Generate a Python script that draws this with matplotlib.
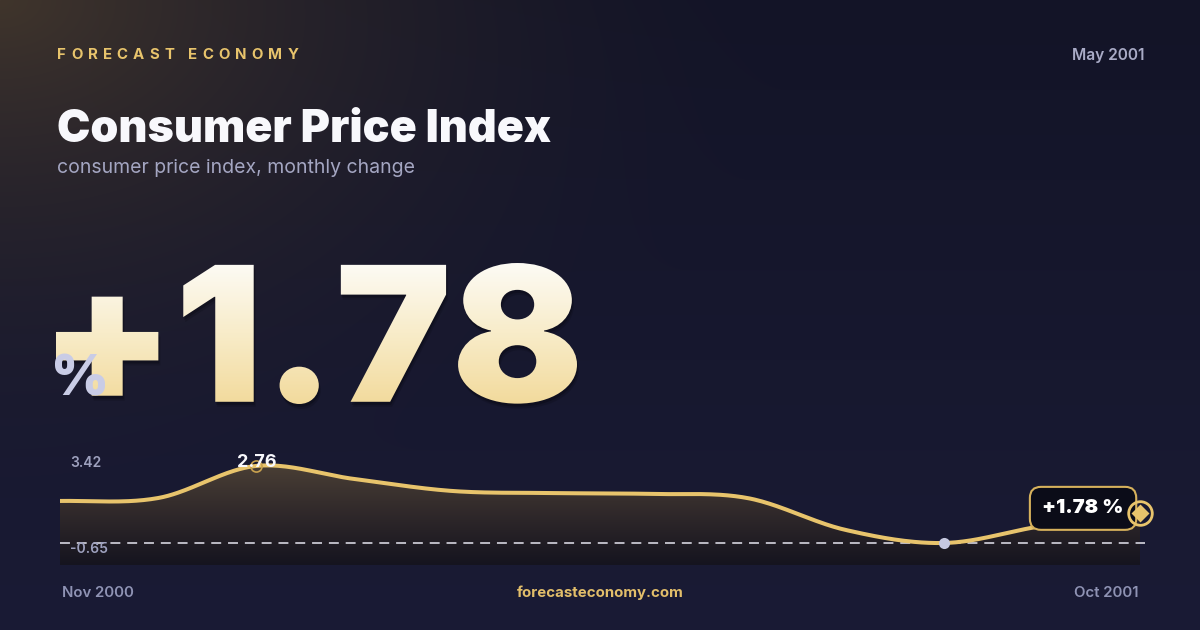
import numpy as np
import matplotlib
matplotlib.use("Agg")
import matplotlib.pyplot as plt
from matplotlib.textpath import TextPath
from matplotlib.patches import PathPatch
from matplotlib.font_manager import FontProperties
from matplotlib.transforms import Affine2D
from matplotlib.colors import LinearSegmentedColormap

# ---------------- data ----------------
months = ["Nov 2000", "Dec 2000", "Jan 2001", "Feb 2001", "Mar 2001", "Apr 2001",
          "May 2001", "Jun 2001", "Jul 2001", "Aug 2001", "Sep 2001", "Oct 2001"]
values = [1.21, 1.34, 2.76, 2.18, 1.65, 1.56, 1.52, 1.34, -0.07, -0.65, 0.10, 0.68]
axis_top = 3.42
axis_bottom = -0.65
headline_value = "+1.78"
badge_text = "+1.78 %"
peak_label = "2.76"
brand = "FORECAST ECONOMY"
title = "Consumer Price Index"
subtitle = "consumer price index, monthly change"
date_label = "May 2001"
site = "forecasteconomy.com"

W, H = 1200, 630
fig = plt.figure(figsize=(W / 100, H / 100), dpi=100)
FAM = ["Inter", "Lato", "Roboto", "DejaVu Sans"]
plt.rcParams["font.family"] = FAM

GOLD = "#e8c46c"

# ---------------- background ----------------
bg = fig.add_axes([0, 0, 1, 1])
bg.set_xlim(0, W)
bg.set_ylim(H, 0)
bg.axis("off")
yy, xx = np.mgrid[0:H, 0:W]
top = np.array([0x13, 0x14, 0x27]) / 255
bot = np.array([0x1a, 0x1b, 0x35]) / 255
t = (yy / H)[..., None]
img = top * (1 - t) + bot * t
r = np.sqrt((xx * 0.9) ** 2 + (yy * 1.35) ** 2)
glow = np.clip(1 - r / 720, 0, 1) ** 1.8
warm = np.array([0x40, 0x35, 0x2c]) / 255
img = img * (1 - glow[..., None]) + warm * glow[..., None]
bg.imshow(img, extent=(0, W, H, 0), aspect="auto", zorder=0, interpolation="bilinear")

renderer = fig.canvas.get_renderer()

# ---------------- header ----------------
prop_brand = FontProperties(family=FAM, weight="bold", size=10.8)
x = 57
for ch in brand:
    if ch == " ":
        x += 9
        continue
    bg.text(x, 59, ch, fontproperties=prop_brand, color=GOLD, ha="left", va="baseline", zorder=3)
    w, h, d = renderer.get_text_width_height_descent(ch, prop_brand, ismath=False)
    x += w + 5.1

bg.text(57, 142, title, fontsize=32.2, fontweight="black", color="#f8f8fc",
        ha="left", va="baseline", zorder=3)
bg.text(57, 173, subtitle, fontsize=14.0, color="#a4a6c2",
        ha="left", va="baseline", zorder=3)
bg.text(1144, 60, date_label, fontsize=11.2, fontweight="semibold", color="#a9abc6",
        ha="right", va="baseline", zorder=3)

# ---------------- headline with gradient ----------------
hp = FontProperties(family=FAM, weight="black")
tp = TextPath((0, 0), headline_value, size=100, prop=hp)
ext = tp.get_extents()
x0, x1, y0, y1 = 56, 577, 263, 404
sx = (x1 - x0) / ext.width
sy = (y1 - y0) / ext.height
tr = Affine2D().translate(-ext.x0, -ext.y0).scale(sx, -sy).translate(x0, y1)
path = tr.transform_path(tp)
for off, a in [((1, 3), 0.30), ((2, 5), 0.18)]:
    sh = PathPatch(Affine2D().translate(*off).transform_path(path), facecolor="#06060d",
                   edgecolor="none", alpha=a, transform=bg.transData, zorder=3)
    bg.add_patch(sh)
patch = PathPatch(path, facecolor="none", edgecolor="none", transform=bg.transData, zorder=4)
bg.add_patch(patch)
gcmap = LinearSegmentedColormap.from_list("g", ["#fdfcf8", "#f8ecc9", "#f2d999"])
grad = np.linspace(0, 1, 256)[:, None]
im = bg.imshow(grad, cmap=gcmap, extent=(x0 - 5, x1 + 5, y1 + 5, y0 - 5), aspect="auto",
               zorder=4, interpolation="bilinear")
im.set_clip_path(patch)

bg.text(51, 395, "%", fontsize=40, fontweight="black", color="#c9cce6",
        ha="left", va="baseline", zorder=5)

# ---------------- chart ----------------
L, R = 60, 1140
ytop_px, yzero_px, ybot_px = 451, 543, 565
ax = fig.add_axes([L / W, 1 - ybot_px / H, (R - L) / W, (ybot_px - ytop_px) / H])
ax.axis("off")
ax.patch.set_alpha(0)
span = axis_top - axis_bottom
ylow = axis_bottom - span * (ybot_px - yzero_px) / (yzero_px - ytop_px)
n = len(values)
xs = np.arange(n, dtype=float)


def catmull_rom(x, y, per=40):
    x = np.asarray(x, float)
    y = np.asarray(y, float)
    m = np.zeros_like(y)
    m[1:-1] = (y[2:] - y[:-2]) / 2
    m[0] = (y[1] - y[0]) / 2
    m[-1] = (y[-1] - y[-2]) / 2
    X, Y = [], []
    for i in range(len(x) - 1):
        tt = np.linspace(0, 1, per, endpoint=False)
        h00 = 2 * tt**3 - 3 * tt**2 + 1
        h10 = tt**3 - 2 * tt**2 + tt
        h01 = -2 * tt**3 + 3 * tt**2
        h11 = tt**3 - tt**2
        X.append(x[i] + tt * (x[i + 1] - x[i]))
        Y.append(h00 * y[i] + h10 * m[i] + h01 * y[i + 1] + h11 * m[i + 1])
    X.append([x[-1]])
    Y.append([y[-1]])
    return np.concatenate(X), np.concatenate(Y)


cx, cy = catmull_rom(xs, values)

fill = ax.fill_between(cx, cy, ylow, facecolor="none", edgecolor="none")
fcmap = LinearSegmentedColormap.from_list("f", ["#4a3f35", "#2f282a", "#15141f"])
fim = ax.imshow(np.linspace(0, 1, 256)[:, None], cmap=fcmap,
                extent=(0, n - 1, ylow, max(cy) + 0.05), aspect="auto",
                interpolation="bilinear", zorder=1)
fim.set_clip_path(fill.get_paths()[0], transform=ax.transData)
ax.set_xlim(0, n - 1)
ax.set_ylim(ylow, axis_top)

ax.axhline(axis_bottom, xmin=0, xmax=1.005, color="#e6e6f0", lw=1.1,
           dashes=(6.5, 4.5), zorder=2, clip_on=False)
ax.plot(cx, cy, color=GOLD, lw=2.9, solid_capstyle="round", zorder=3)

imax = int(np.argmax(values))
imin = int(np.argmin(values))
ax.plot(xs[imax], values[imax], "o", ms=8.0, mfc="none", mec="#c9a24f", mew=1.2, zorder=4)
ax.annotate(peak_label, (xs[imax], values[imax]), xytext=(0, -1), textcoords="offset points",
            ha="center", va="baseline", fontsize=13, fontweight="bold",
            color="#f8f8fc", zorder=5)
ax.plot(xs[imin], values[imin], "o", ms=8, mfc="#c5c8e0", mec="none", zorder=4)

ax.annotate("3.42", (0, axis_top), xytext=(7.2, -3.6), textcoords="offset points",
            fontsize=10, fontweight="semibold", color="#9ea1be", ha="left", va="top", zorder=5)
ax.annotate("-0.65", (0, axis_bottom), xytext=(7.2, 0.5), textcoords="offset points",
            fontsize=10, fontweight="semibold", color="#9ea1be", ha="left", va="top", zorder=5)

# badge
ax.annotate(badge_text, (xs[-1], values[-1]), xytext=(-41, 3.3), textcoords="offset points",
            ha="center", va="center", fontsize=14.5, fontweight="black", color="#ffffff",
            zorder=7,
            bbox=dict(boxstyle="round,pad=0.62,rounding_size=0.55", fc="#0b0c18",
                      ec="#d6b15c", lw=1.5))

# end marker
ax.plot(xs[-1], values[-1], "o", ms=17, mfc="none", mec=GOLD, mew=2.0, zorder=8, clip_on=False)
ax.plot(xs[-1], values[-1], "D", ms=9.5, mfc=GOLD, mec="none", zorder=8, clip_on=False)

# ---------------- footer ----------------
bg.text(62, 597, months[0], fontsize=10.8, fontweight="semibold", color="#8f93b4",
        ha="left", va="baseline", zorder=3)
bg.text(1138, 597, months[-1], fontsize=10.8, fontweight="semibold", color="#8f93b4",
        ha="right", va="baseline", zorder=3)
bg.text(600, 597, site, fontsize=10.8, fontweight="bold", color="#e2be6a",
        ha="center", va="baseline", zorder=3)

fig.savefig("out.png", dpi=100)
